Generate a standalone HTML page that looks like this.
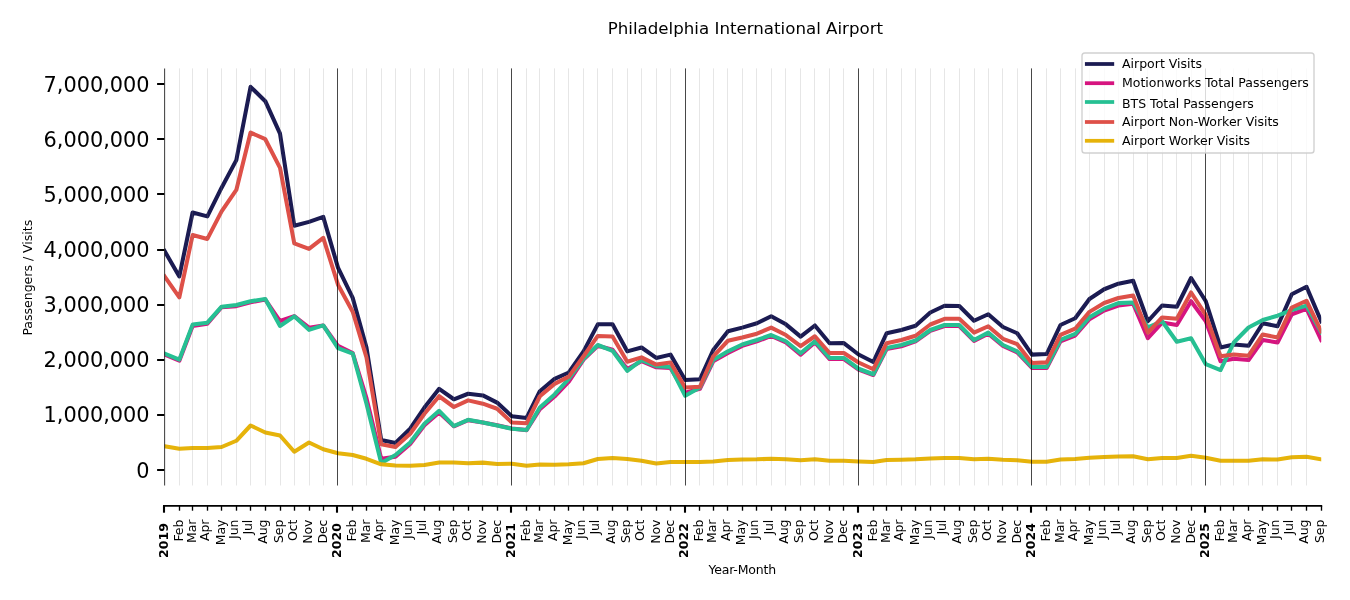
<!DOCTYPE html>
<html lang="en"><head><meta charset="utf-8"><title>Philadelphia International Airport</title>
<style>html,body{margin:0;padding:0;background:#fff}svg{display:block}</style></head>
<body>
<svg width="1350" height="600" viewBox="0 0 1350 600" font-family="'DejaVu Sans', 'Liberation Sans', sans-serif">
<rect width="1350" height="600" fill="#fff"/>
<clipPath id="c"><rect x="164.6" y="68.4" width="1156.625" height="417.1"/></clipPath>
<g clip-path="url(#c)" fill="none" stroke-linejoin="round" stroke-linecap="square">
<polyline points="164.60,251.05 179.32,276.40 192.62,212.48 207.35,216.34 221.60,187.69 236.32,160.14 250.57,86.86 265.30,101.18 280.02,133.69 294.27,225.71 309.00,221.85 323.25,216.89 337.98,267.58 352.70,297.89 366.48,347.48 381.20,440.05 395.45,443.02 410.17,428.75 424.42,407.54 439.15,388.80 453.88,399.27 468.12,393.76 482.85,395.42 497.10,402.58 511.82,416.24 526.55,418.01 539.85,391.23 554.58,378.88 568.82,372.49 583.55,351.34 597.80,324.34 612.52,324.34 627.25,351.34 641.50,347.48 656.23,357.95 670.48,354.64 685.20,379.99 699.93,379.27 713.23,350.01 727.95,331.28 742.20,327.64 756.93,323.23 771.18,316.24 785.90,324.34 800.62,336.62 814.88,325.49 829.60,343.24 843.85,343.07 858.58,354.48 873.30,362.02 886.60,333.26 901.32,330.01 915.58,325.77 930.30,312.49 944.55,305.77 959.27,305.99 974.00,320.75 988.25,314.25 1002.98,326.98 1017.23,333.26 1031.95,354.64 1046.67,354.09 1060.45,325.00 1075.17,318.27 1089.42,298.99 1104.15,289.24 1118.40,283.73 1133.12,280.75 1147.85,321.25 1162.10,305.49 1176.82,306.76 1191.08,278.00 1205.80,301.25 1220.52,347.48 1233.82,344.50 1248.55,345.77 1262.80,323.23 1277.52,326.26 1291.77,294.25 1306.50,286.76 1321.22,321.25" stroke="#1b1b52" stroke-width="4.05"/>
<polyline points="164.60,354.64 179.32,360.70 192.62,325.99 207.35,323.79 221.60,307.25 236.32,306.15 250.57,302.30 265.30,299.54 280.02,321.03 294.27,316.07 309.00,327.64 323.25,325.44 337.98,345.82 352.70,352.99 366.48,398.17 381.20,458.78 395.45,456.74 410.17,443.90 424.42,425.17 439.15,412.50 453.88,426.27 468.12,420.21 482.85,422.41 497.10,425.17 511.82,428.48 526.55,430.13 539.85,409.19 554.58,396.52 568.82,381.64 583.55,359.60 597.80,345.82 612.52,349.68 627.25,368.97 641.50,361.25 656.23,367.31 670.48,367.87 685.20,392.66 699.93,388.80 713.23,361.25 727.95,352.99 742.20,345.82 756.93,341.42 771.18,335.91 785.90,342.52 800.62,354.64 814.88,342.52 829.60,359.05 843.85,359.05 858.58,369.52 873.30,375.03 886.60,349.13 901.32,346.38 915.58,341.42 930.30,330.95 944.55,325.99 959.27,325.99 974.00,340.87 988.25,333.70 1002.98,345.82 1017.23,352.44 1031.95,367.98 1046.67,367.98 1060.45,341.25 1075.17,335.52 1089.42,319.27 1104.15,310.51 1118.40,305.60 1133.12,303.73 1147.85,338.22 1162.10,322.52 1176.82,325.00 1191.08,301.25 1205.80,321.25 1220.52,361.25 1233.82,358.77 1248.55,359.99 1262.80,339.98 1277.52,342.52 1291.77,314.25 1306.50,308.74 1321.22,339.98" stroke="#d6147f" stroke-width="4.05"/>
<polyline points="164.60,353.54 179.32,359.60 192.62,324.61 207.35,322.68 221.60,306.70 236.32,305.05 250.57,301.19 265.30,298.99 280.02,325.99 294.27,316.35 309.00,329.85 323.25,325.44 337.98,348.03 352.70,353.54 366.48,403.68 381.20,462.91 395.45,454.98 410.17,442.53 424.42,423.74 439.15,410.84 453.88,426.00 468.12,419.82 482.85,422.52 497.10,425.50 511.82,428.75 526.55,430.02 539.85,407.54 554.58,394.48 568.82,378.77 583.55,358.77 597.80,345.00 612.52,350.78 627.25,370.79 641.50,360.15 656.23,366.21 670.48,366.98 685.20,395.75 699.93,387.48 713.23,359.99 727.95,351.34 742.20,344.50 756.93,339.98 771.18,335.03 785.90,341.25 800.62,353.26 814.88,341.25 829.60,357.95 843.85,357.95 858.58,368.75 873.30,374.26 886.60,348.03 901.32,345.00 915.58,340.48 930.30,330.01 944.55,325.00 959.27,325.00 974.00,339.98 988.25,332.60 1002.98,345.00 1017.23,351.34 1031.95,366.87 1046.67,366.87 1060.45,339.98 1075.17,333.98 1089.42,317.28 1104.15,308.74 1118.40,303.12 1133.12,302.52 1147.85,327.48 1162.10,321.25 1176.82,341.75 1191.08,338.22 1205.80,364.23 1220.52,370.01 1233.82,342.52 1248.55,327.48 1262.80,319.93 1277.52,315.74 1291.77,310.01 1306.50,305.60 1321.22,332.33" stroke="#26c093" stroke-width="4.05"/>
<polyline points="164.60,276.40 179.32,297.34 192.62,235.07 207.35,238.93 221.60,211.38 236.32,189.89 250.57,132.59 265.30,139.20 280.02,167.85 294.27,243.34 309.00,248.85 323.25,237.83 337.98,284.66 352.70,311.66 366.48,357.40 381.20,444.23 395.45,446.99 410.17,433.76 424.42,413.76 439.15,396.24 453.88,406.99 468.12,400.37 482.85,403.68 497.10,408.75 511.82,422.52 526.55,423.24 539.85,396.24 554.58,383.84 568.82,376.68 583.55,356.29 597.80,335.91 612.52,336.46 627.25,361.80 641.50,357.40 656.23,364.56 670.48,362.52 685.20,387.48 699.93,386.76 713.23,356.29 727.95,340.76 742.20,337.56 756.93,333.70 771.18,327.64 785.90,335.03 800.62,346.10 814.88,336.24 829.60,352.99 843.85,352.99 858.58,362.52 873.30,369.24 886.60,343.24 901.32,339.98 915.58,335.74 930.30,324.50 944.55,318.83 959.27,318.83 974.00,332.60 988.25,326.26 1002.98,338.77 1017.23,344.23 1031.95,362.91 1046.67,362.36 1060.45,334.81 1075.17,328.74 1089.42,311.88 1104.15,303.01 1118.40,298.00 1133.12,295.52 1147.85,332.60 1162.10,317.50 1176.82,318.77 1191.08,292.49 1205.80,314.97 1220.52,356.29 1233.82,354.48 1248.55,355.74 1262.80,334.47 1277.52,337.56 1291.77,307.48 1306.50,300.75 1321.22,331.22" stroke="#de5048" stroke-width="4.05"/>
<polyline points="164.60,446.27 179.32,448.75 192.62,447.98 207.35,447.98 221.60,446.99 236.32,440.76 250.57,425.50 265.30,432.50 280.02,435.53 294.27,451.73 309.00,442.53 323.25,449.25 337.98,453.27 352.70,454.98 366.48,458.78 381.20,464.29 395.45,465.50 410.17,465.78 424.42,465.01 439.15,462.53 453.88,462.53 468.12,463.24 482.85,462.64 497.10,464.01 511.82,463.74 526.55,465.78 539.85,464.51 554.58,464.73 568.82,464.29 583.55,463.24 597.80,459.00 612.52,458.01 627.25,459.00 641.50,460.76 656.23,463.52 670.48,462.00 685.20,462.09 699.93,462.09 713.23,461.54 727.95,459.99 742.20,459.50 756.93,459.33 771.18,458.78 785.90,459.33 800.62,460.27 814.88,459.28 829.60,460.76 843.85,460.76 858.58,461.54 873.30,462.09 886.60,459.99 901.32,459.77 915.58,459.33 930.30,458.50 944.55,458.01 959.27,458.01 974.00,459.33 988.25,458.78 1002.98,459.77 1017.23,460.27 1031.95,461.65 1046.67,461.65 1060.45,459.50 1075.17,459.00 1089.42,457.73 1104.15,457.02 1118.40,456.52 1133.12,456.25 1147.85,459.33 1162.10,458.06 1176.82,458.06 1191.08,455.75 1205.80,457.79 1220.52,460.82 1233.82,460.82 1248.55,460.82 1262.80,459.33 1277.52,459.55 1291.77,457.29 1306.50,456.80 1321.22,459.33" stroke="#e6b30a" stroke-width="4.05"/>
</g>
<g stroke-width="1">
<line x1="179.5" x2="179.5" y1="68.4" y2="485.5" stroke="#808080" stroke-opacity="0.2"/>
<line x1="192.5" x2="192.5" y1="68.4" y2="485.5" stroke="#808080" stroke-opacity="0.2"/>
<line x1="207.5" x2="207.5" y1="68.4" y2="485.5" stroke="#808080" stroke-opacity="0.2"/>
<line x1="221.5" x2="221.5" y1="68.4" y2="485.5" stroke="#808080" stroke-opacity="0.2"/>
<line x1="236.5" x2="236.5" y1="68.4" y2="485.5" stroke="#808080" stroke-opacity="0.2"/>
<line x1="250.5" x2="250.5" y1="68.4" y2="485.5" stroke="#808080" stroke-opacity="0.2"/>
<line x1="265.5" x2="265.5" y1="68.4" y2="485.5" stroke="#808080" stroke-opacity="0.2"/>
<line x1="280.5" x2="280.5" y1="68.4" y2="485.5" stroke="#808080" stroke-opacity="0.2"/>
<line x1="294.5" x2="294.5" y1="68.4" y2="485.5" stroke="#808080" stroke-opacity="0.2"/>
<line x1="309.5" x2="309.5" y1="68.4" y2="485.5" stroke="#808080" stroke-opacity="0.2"/>
<line x1="323.5" x2="323.5" y1="68.4" y2="485.5" stroke="#808080" stroke-opacity="0.2"/>
<line x1="337.5" x2="337.5" y1="68.4" y2="485.5" stroke="#000" stroke-opacity="0.72"/>
<line x1="352.5" x2="352.5" y1="68.4" y2="485.5" stroke="#808080" stroke-opacity="0.2"/>
<line x1="366.5" x2="366.5" y1="68.4" y2="485.5" stroke="#808080" stroke-opacity="0.2"/>
<line x1="381.5" x2="381.5" y1="68.4" y2="485.5" stroke="#808080" stroke-opacity="0.2"/>
<line x1="395.5" x2="395.5" y1="68.4" y2="485.5" stroke="#808080" stroke-opacity="0.2"/>
<line x1="410.5" x2="410.5" y1="68.4" y2="485.5" stroke="#808080" stroke-opacity="0.2"/>
<line x1="424.5" x2="424.5" y1="68.4" y2="485.5" stroke="#808080" stroke-opacity="0.2"/>
<line x1="439.5" x2="439.5" y1="68.4" y2="485.5" stroke="#808080" stroke-opacity="0.2"/>
<line x1="453.5" x2="453.5" y1="68.4" y2="485.5" stroke="#808080" stroke-opacity="0.2"/>
<line x1="468.5" x2="468.5" y1="68.4" y2="485.5" stroke="#808080" stroke-opacity="0.2"/>
<line x1="482.5" x2="482.5" y1="68.4" y2="485.5" stroke="#808080" stroke-opacity="0.2"/>
<line x1="497.5" x2="497.5" y1="68.4" y2="485.5" stroke="#808080" stroke-opacity="0.2"/>
<line x1="511.5" x2="511.5" y1="68.4" y2="485.5" stroke="#000" stroke-opacity="0.72"/>
<line x1="526.5" x2="526.5" y1="68.4" y2="485.5" stroke="#808080" stroke-opacity="0.2"/>
<line x1="539.5" x2="539.5" y1="68.4" y2="485.5" stroke="#808080" stroke-opacity="0.2"/>
<line x1="554.5" x2="554.5" y1="68.4" y2="485.5" stroke="#808080" stroke-opacity="0.2"/>
<line x1="568.5" x2="568.5" y1="68.4" y2="485.5" stroke="#808080" stroke-opacity="0.2"/>
<line x1="583.5" x2="583.5" y1="68.4" y2="485.5" stroke="#808080" stroke-opacity="0.2"/>
<line x1="597.5" x2="597.5" y1="68.4" y2="485.5" stroke="#808080" stroke-opacity="0.2"/>
<line x1="612.5" x2="612.5" y1="68.4" y2="485.5" stroke="#808080" stroke-opacity="0.2"/>
<line x1="627.5" x2="627.5" y1="68.4" y2="485.5" stroke="#808080" stroke-opacity="0.2"/>
<line x1="641.5" x2="641.5" y1="68.4" y2="485.5" stroke="#808080" stroke-opacity="0.2"/>
<line x1="656.5" x2="656.5" y1="68.4" y2="485.5" stroke="#808080" stroke-opacity="0.2"/>
<line x1="670.5" x2="670.5" y1="68.4" y2="485.5" stroke="#808080" stroke-opacity="0.2"/>
<line x1="685.5" x2="685.5" y1="68.4" y2="485.5" stroke="#000" stroke-opacity="0.72"/>
<line x1="699.5" x2="699.5" y1="68.4" y2="485.5" stroke="#808080" stroke-opacity="0.2"/>
<line x1="713.5" x2="713.5" y1="68.4" y2="485.5" stroke="#808080" stroke-opacity="0.2"/>
<line x1="727.5" x2="727.5" y1="68.4" y2="485.5" stroke="#808080" stroke-opacity="0.2"/>
<line x1="742.5" x2="742.5" y1="68.4" y2="485.5" stroke="#808080" stroke-opacity="0.2"/>
<line x1="756.5" x2="756.5" y1="68.4" y2="485.5" stroke="#808080" stroke-opacity="0.2"/>
<line x1="771.5" x2="771.5" y1="68.4" y2="485.5" stroke="#808080" stroke-opacity="0.2"/>
<line x1="785.5" x2="785.5" y1="68.4" y2="485.5" stroke="#808080" stroke-opacity="0.2"/>
<line x1="800.5" x2="800.5" y1="68.4" y2="485.5" stroke="#808080" stroke-opacity="0.2"/>
<line x1="814.5" x2="814.5" y1="68.4" y2="485.5" stroke="#808080" stroke-opacity="0.2"/>
<line x1="829.5" x2="829.5" y1="68.4" y2="485.5" stroke="#808080" stroke-opacity="0.2"/>
<line x1="843.5" x2="843.5" y1="68.4" y2="485.5" stroke="#808080" stroke-opacity="0.2"/>
<line x1="858.5" x2="858.5" y1="68.4" y2="485.5" stroke="#000" stroke-opacity="0.72"/>
<line x1="873.5" x2="873.5" y1="68.4" y2="485.5" stroke="#808080" stroke-opacity="0.2"/>
<line x1="886.5" x2="886.5" y1="68.4" y2="485.5" stroke="#808080" stroke-opacity="0.2"/>
<line x1="901.5" x2="901.5" y1="68.4" y2="485.5" stroke="#808080" stroke-opacity="0.2"/>
<line x1="915.5" x2="915.5" y1="68.4" y2="485.5" stroke="#808080" stroke-opacity="0.2"/>
<line x1="930.5" x2="930.5" y1="68.4" y2="485.5" stroke="#808080" stroke-opacity="0.2"/>
<line x1="944.5" x2="944.5" y1="68.4" y2="485.5" stroke="#808080" stroke-opacity="0.2"/>
<line x1="959.5" x2="959.5" y1="68.4" y2="485.5" stroke="#808080" stroke-opacity="0.2"/>
<line x1="974.5" x2="974.5" y1="68.4" y2="485.5" stroke="#808080" stroke-opacity="0.2"/>
<line x1="988.5" x2="988.5" y1="68.4" y2="485.5" stroke="#808080" stroke-opacity="0.2"/>
<line x1="1002.5" x2="1002.5" y1="68.4" y2="485.5" stroke="#808080" stroke-opacity="0.2"/>
<line x1="1017.5" x2="1017.5" y1="68.4" y2="485.5" stroke="#808080" stroke-opacity="0.2"/>
<line x1="1031.5" x2="1031.5" y1="68.4" y2="485.5" stroke="#000" stroke-opacity="0.72"/>
<line x1="1046.5" x2="1046.5" y1="68.4" y2="485.5" stroke="#808080" stroke-opacity="0.2"/>
<line x1="1060.5" x2="1060.5" y1="68.4" y2="485.5" stroke="#808080" stroke-opacity="0.2"/>
<line x1="1075.5" x2="1075.5" y1="68.4" y2="485.5" stroke="#808080" stroke-opacity="0.2"/>
<line x1="1089.5" x2="1089.5" y1="68.4" y2="485.5" stroke="#808080" stroke-opacity="0.2"/>
<line x1="1104.5" x2="1104.5" y1="68.4" y2="485.5" stroke="#808080" stroke-opacity="0.2"/>
<line x1="1118.5" x2="1118.5" y1="68.4" y2="485.5" stroke="#808080" stroke-opacity="0.2"/>
<line x1="1133.5" x2="1133.5" y1="68.4" y2="485.5" stroke="#808080" stroke-opacity="0.2"/>
<line x1="1147.5" x2="1147.5" y1="68.4" y2="485.5" stroke="#808080" stroke-opacity="0.2"/>
<line x1="1162.5" x2="1162.5" y1="68.4" y2="485.5" stroke="#808080" stroke-opacity="0.2"/>
<line x1="1176.5" x2="1176.5" y1="68.4" y2="485.5" stroke="#808080" stroke-opacity="0.2"/>
<line x1="1191.5" x2="1191.5" y1="68.4" y2="485.5" stroke="#808080" stroke-opacity="0.2"/>
<line x1="1205.5" x2="1205.5" y1="68.4" y2="485.5" stroke="#000" stroke-opacity="0.72"/>
<line x1="1220.5" x2="1220.5" y1="68.4" y2="485.5" stroke="#808080" stroke-opacity="0.2"/>
<line x1="1233.5" x2="1233.5" y1="68.4" y2="485.5" stroke="#808080" stroke-opacity="0.2"/>
<line x1="1248.5" x2="1248.5" y1="68.4" y2="485.5" stroke="#808080" stroke-opacity="0.2"/>
<line x1="1262.5" x2="1262.5" y1="68.4" y2="485.5" stroke="#808080" stroke-opacity="0.2"/>
<line x1="1277.5" x2="1277.5" y1="68.4" y2="485.5" stroke="#808080" stroke-opacity="0.2"/>
<line x1="1291.5" x2="1291.5" y1="68.4" y2="485.5" stroke="#808080" stroke-opacity="0.2"/>
<line x1="1306.5" x2="1306.5" y1="68.4" y2="485.5" stroke="#808080" stroke-opacity="0.2"/>
</g>
<line x1="164.6" x2="164.6" y1="68.4" y2="485.5" stroke="#000" stroke-opacity="0.75" stroke-width="1.05"/>
<line x1="157.1" x2="164.3" y1="470" y2="470" stroke="#000" stroke-width="2"/>
<text x="149.6" y="477.60" font-size="20.83" text-anchor="end" fill="#000">0</text>
<line x1="157.1" x2="164.3" y1="415" y2="415" stroke="#000" stroke-width="2"/>
<text x="149.6" y="422.46" font-size="20.83" text-anchor="end" fill="#000">1,000,000</text>
<line x1="157.1" x2="164.3" y1="360" y2="360" stroke="#000" stroke-width="2"/>
<text x="149.6" y="367.32" font-size="20.83" text-anchor="end" fill="#000">2,000,000</text>
<line x1="157.1" x2="164.3" y1="305" y2="305" stroke="#000" stroke-width="2"/>
<text x="149.6" y="312.18" font-size="20.83" text-anchor="end" fill="#000">3,000,000</text>
<line x1="157.1" x2="164.3" y1="250" y2="250" stroke="#000" stroke-width="2"/>
<text x="149.6" y="257.04" font-size="20.83" text-anchor="end" fill="#000">4,000,000</text>
<line x1="157.1" x2="164.3" y1="194" y2="194" stroke="#000" stroke-width="2"/>
<text x="149.6" y="201.90" font-size="20.83" text-anchor="end" fill="#000">5,000,000</text>
<line x1="157.1" x2="164.3" y1="139" y2="139" stroke="#000" stroke-width="2"/>
<text x="149.6" y="146.76" font-size="20.83" text-anchor="end" fill="#000">6,000,000</text>
<line x1="157.1" x2="164.3" y1="84" y2="84" stroke="#000" stroke-width="2"/>
<text x="149.6" y="91.62" font-size="20.83" text-anchor="end" fill="#000">7,000,000</text>
<line x1="163" x2="1322.2" y1="505.85" y2="505.85" stroke="#000" stroke-width="1.7"/>
<line x1="164" x2="164" y1="505.85" y2="512.7" stroke="#000" stroke-width="2.1"/>
<text transform="translate(168,523.1) rotate(-90)" font-size="12.5" font-weight="bold" text-anchor="end" fill="#000">2019</text>
<line x1="179.5" x2="179.5" y1="505.85" y2="510.7" stroke="#000" stroke-width="1.35"/>
<text transform="translate(183,519.8) rotate(-90)" font-size="12.5" letter-spacing="-0.15" text-anchor="end" fill="#000">Feb</text>
<line x1="192.5" x2="192.5" y1="505.85" y2="510.7" stroke="#000" stroke-width="1.35"/>
<text transform="translate(196,519.8) rotate(-90)" font-size="12.5" letter-spacing="-0.15" text-anchor="end" fill="#000">Mar</text>
<line x1="207.5" x2="207.5" y1="505.85" y2="510.7" stroke="#000" stroke-width="1.35"/>
<text transform="translate(209,519.8) rotate(-90)" font-size="12.5" letter-spacing="-0.15" text-anchor="end" fill="#000">Apr</text>
<line x1="221.5" x2="221.5" y1="505.85" y2="510.7" stroke="#000" stroke-width="1.35"/>
<text transform="translate(225,519.8) rotate(-90)" font-size="12.5" letter-spacing="-0.15" text-anchor="end" fill="#000">May</text>
<line x1="236.5" x2="236.5" y1="505.85" y2="510.7" stroke="#000" stroke-width="1.35"/>
<text transform="translate(238,519.8) rotate(-90)" font-size="12.5" letter-spacing="-0.15" text-anchor="end" fill="#000">Jun</text>
<line x1="250.5" x2="250.5" y1="505.85" y2="510.7" stroke="#000" stroke-width="1.35"/>
<text transform="translate(252,519.8) rotate(-90)" font-size="12.5" letter-spacing="-0.15" text-anchor="end" fill="#000">Jul</text>
<line x1="265.5" x2="265.5" y1="505.85" y2="510.7" stroke="#000" stroke-width="1.35"/>
<text transform="translate(267,519.8) rotate(-90)" font-size="12.5" letter-spacing="-0.15" text-anchor="end" fill="#000">Aug</text>
<line x1="280.5" x2="280.5" y1="505.85" y2="510.7" stroke="#000" stroke-width="1.35"/>
<text transform="translate(283,519.8) rotate(-90)" font-size="12.5" letter-spacing="-0.15" text-anchor="end" fill="#000">Sep</text>
<line x1="294.5" x2="294.5" y1="505.85" y2="510.7" stroke="#000" stroke-width="1.35"/>
<text transform="translate(297,519.8) rotate(-90)" font-size="12.5" letter-spacing="-0.15" text-anchor="end" fill="#000">Oct</text>
<line x1="309.5" x2="309.5" y1="505.85" y2="510.7" stroke="#000" stroke-width="1.35"/>
<text transform="translate(312,519.8) rotate(-90)" font-size="12.5" letter-spacing="-0.15" text-anchor="end" fill="#000">Nov</text>
<line x1="323.5" x2="323.5" y1="505.85" y2="510.7" stroke="#000" stroke-width="1.35"/>
<text transform="translate(327,519.8) rotate(-90)" font-size="12.5" letter-spacing="-0.15" text-anchor="end" fill="#000">Dec</text>
<line x1="337" x2="337" y1="505.85" y2="512.7" stroke="#000" stroke-width="2.1"/>
<text transform="translate(341,523.1) rotate(-90)" font-size="12.5" font-weight="bold" text-anchor="end" fill="#000">2020</text>
<line x1="352.5" x2="352.5" y1="505.85" y2="510.7" stroke="#000" stroke-width="1.35"/>
<text transform="translate(356,519.8) rotate(-90)" font-size="12.5" letter-spacing="-0.15" text-anchor="end" fill="#000">Feb</text>
<line x1="366.5" x2="366.5" y1="505.85" y2="510.7" stroke="#000" stroke-width="1.35"/>
<text transform="translate(370,519.8) rotate(-90)" font-size="12.5" letter-spacing="-0.15" text-anchor="end" fill="#000">Mar</text>
<line x1="381.5" x2="381.5" y1="505.85" y2="510.7" stroke="#000" stroke-width="1.35"/>
<text transform="translate(383,519.8) rotate(-90)" font-size="12.5" letter-spacing="-0.15" text-anchor="end" fill="#000">Apr</text>
<line x1="395.5" x2="395.5" y1="505.85" y2="510.7" stroke="#000" stroke-width="1.35"/>
<text transform="translate(399,519.8) rotate(-90)" font-size="12.5" letter-spacing="-0.15" text-anchor="end" fill="#000">May</text>
<line x1="410.5" x2="410.5" y1="505.85" y2="510.7" stroke="#000" stroke-width="1.35"/>
<text transform="translate(412,519.8) rotate(-90)" font-size="12.5" letter-spacing="-0.15" text-anchor="end" fill="#000">Jun</text>
<line x1="424.5" x2="424.5" y1="505.85" y2="510.7" stroke="#000" stroke-width="1.35"/>
<text transform="translate(426,519.8) rotate(-90)" font-size="12.5" letter-spacing="-0.15" text-anchor="end" fill="#000">Jul</text>
<line x1="439.5" x2="439.5" y1="505.85" y2="510.7" stroke="#000" stroke-width="1.35"/>
<text transform="translate(441,519.8) rotate(-90)" font-size="12.5" letter-spacing="-0.15" text-anchor="end" fill="#000">Aug</text>
<line x1="453.5" x2="453.5" y1="505.85" y2="510.7" stroke="#000" stroke-width="1.35"/>
<text transform="translate(457,519.8) rotate(-90)" font-size="12.5" letter-spacing="-0.15" text-anchor="end" fill="#000">Sep</text>
<line x1="468.5" x2="468.5" y1="505.85" y2="510.7" stroke="#000" stroke-width="1.35"/>
<text transform="translate(471,519.8) rotate(-90)" font-size="12.5" letter-spacing="-0.15" text-anchor="end" fill="#000">Oct</text>
<line x1="482.5" x2="482.5" y1="505.85" y2="510.7" stroke="#000" stroke-width="1.35"/>
<text transform="translate(486,519.8) rotate(-90)" font-size="12.5" letter-spacing="-0.15" text-anchor="end" fill="#000">Nov</text>
<line x1="497.5" x2="497.5" y1="505.85" y2="510.7" stroke="#000" stroke-width="1.35"/>
<text transform="translate(501,519.8) rotate(-90)" font-size="12.5" letter-spacing="-0.15" text-anchor="end" fill="#000">Dec</text>
<line x1="511" x2="511" y1="505.85" y2="512.7" stroke="#000" stroke-width="2.1"/>
<text transform="translate(515,523.1) rotate(-90)" font-size="12.5" font-weight="bold" text-anchor="end" fill="#000">2021</text>
<line x1="526.5" x2="526.5" y1="505.85" y2="510.7" stroke="#000" stroke-width="1.35"/>
<text transform="translate(530,519.8) rotate(-90)" font-size="12.5" letter-spacing="-0.15" text-anchor="end" fill="#000">Feb</text>
<line x1="539.5" x2="539.5" y1="505.85" y2="510.7" stroke="#000" stroke-width="1.35"/>
<text transform="translate(543,519.8) rotate(-90)" font-size="12.5" letter-spacing="-0.15" text-anchor="end" fill="#000">Mar</text>
<line x1="554.5" x2="554.5" y1="505.85" y2="510.7" stroke="#000" stroke-width="1.35"/>
<text transform="translate(557,519.8) rotate(-90)" font-size="12.5" letter-spacing="-0.15" text-anchor="end" fill="#000">Apr</text>
<line x1="568.5" x2="568.5" y1="505.85" y2="510.7" stroke="#000" stroke-width="1.35"/>
<text transform="translate(572,519.8) rotate(-90)" font-size="12.5" letter-spacing="-0.15" text-anchor="end" fill="#000">May</text>
<line x1="583.5" x2="583.5" y1="505.85" y2="510.7" stroke="#000" stroke-width="1.35"/>
<text transform="translate(585,519.8) rotate(-90)" font-size="12.5" letter-spacing="-0.15" text-anchor="end" fill="#000">Jun</text>
<line x1="597.5" x2="597.5" y1="505.85" y2="510.7" stroke="#000" stroke-width="1.35"/>
<text transform="translate(599,519.8) rotate(-90)" font-size="12.5" letter-spacing="-0.15" text-anchor="end" fill="#000">Jul</text>
<line x1="612.5" x2="612.5" y1="505.85" y2="510.7" stroke="#000" stroke-width="1.35"/>
<text transform="translate(615,519.8) rotate(-90)" font-size="12.5" letter-spacing="-0.15" text-anchor="end" fill="#000">Aug</text>
<line x1="627.5" x2="627.5" y1="505.85" y2="510.7" stroke="#000" stroke-width="1.35"/>
<text transform="translate(630,519.8) rotate(-90)" font-size="12.5" letter-spacing="-0.15" text-anchor="end" fill="#000">Sep</text>
<line x1="641.5" x2="641.5" y1="505.85" y2="510.7" stroke="#000" stroke-width="1.35"/>
<text transform="translate(644,519.8) rotate(-90)" font-size="12.5" letter-spacing="-0.15" text-anchor="end" fill="#000">Oct</text>
<line x1="656.5" x2="656.5" y1="505.85" y2="510.7" stroke="#000" stroke-width="1.35"/>
<text transform="translate(660,519.8) rotate(-90)" font-size="12.5" letter-spacing="-0.15" text-anchor="end" fill="#000">Nov</text>
<line x1="670.5" x2="670.5" y1="505.85" y2="510.7" stroke="#000" stroke-width="1.35"/>
<text transform="translate(674,519.8) rotate(-90)" font-size="12.5" letter-spacing="-0.15" text-anchor="end" fill="#000">Dec</text>
<line x1="685" x2="685" y1="505.85" y2="512.7" stroke="#000" stroke-width="2.1"/>
<text transform="translate(688,523.1) rotate(-90)" font-size="12.5" font-weight="bold" text-anchor="end" fill="#000">2022</text>
<line x1="699.5" x2="699.5" y1="505.85" y2="510.7" stroke="#000" stroke-width="1.35"/>
<text transform="translate(703,519.8) rotate(-90)" font-size="12.5" letter-spacing="-0.15" text-anchor="end" fill="#000">Feb</text>
<line x1="713.5" x2="713.5" y1="505.85" y2="510.7" stroke="#000" stroke-width="1.35"/>
<text transform="translate(716,519.8) rotate(-90)" font-size="12.5" letter-spacing="-0.15" text-anchor="end" fill="#000">Mar</text>
<line x1="727.5" x2="727.5" y1="505.85" y2="510.7" stroke="#000" stroke-width="1.35"/>
<text transform="translate(730,519.8) rotate(-90)" font-size="12.5" letter-spacing="-0.15" text-anchor="end" fill="#000">Apr</text>
<line x1="742.5" x2="742.5" y1="505.85" y2="510.7" stroke="#000" stroke-width="1.35"/>
<text transform="translate(745,519.8) rotate(-90)" font-size="12.5" letter-spacing="-0.15" text-anchor="end" fill="#000">May</text>
<line x1="756.5" x2="756.5" y1="505.85" y2="510.7" stroke="#000" stroke-width="1.35"/>
<text transform="translate(758,519.8) rotate(-90)" font-size="12.5" letter-spacing="-0.15" text-anchor="end" fill="#000">Jun</text>
<line x1="771.5" x2="771.5" y1="505.85" y2="510.7" stroke="#000" stroke-width="1.35"/>
<text transform="translate(773,519.8) rotate(-90)" font-size="12.5" letter-spacing="-0.15" text-anchor="end" fill="#000">Jul</text>
<line x1="785.5" x2="785.5" y1="505.85" y2="510.7" stroke="#000" stroke-width="1.35"/>
<text transform="translate(788,519.8) rotate(-90)" font-size="12.5" letter-spacing="-0.15" text-anchor="end" fill="#000">Aug</text>
<line x1="800.5" x2="800.5" y1="505.85" y2="510.7" stroke="#000" stroke-width="1.35"/>
<text transform="translate(803,519.8) rotate(-90)" font-size="12.5" letter-spacing="-0.15" text-anchor="end" fill="#000">Sep</text>
<line x1="814.5" x2="814.5" y1="505.85" y2="510.7" stroke="#000" stroke-width="1.35"/>
<text transform="translate(818,519.8) rotate(-90)" font-size="12.5" letter-spacing="-0.15" text-anchor="end" fill="#000">Oct</text>
<line x1="829.5" x2="829.5" y1="505.85" y2="510.7" stroke="#000" stroke-width="1.35"/>
<text transform="translate(833,519.8) rotate(-90)" font-size="12.5" letter-spacing="-0.15" text-anchor="end" fill="#000">Nov</text>
<line x1="843.5" x2="843.5" y1="505.85" y2="510.7" stroke="#000" stroke-width="1.35"/>
<text transform="translate(847,519.8) rotate(-90)" font-size="12.5" letter-spacing="-0.15" text-anchor="end" fill="#000">Dec</text>
<line x1="858" x2="858" y1="505.85" y2="512.7" stroke="#000" stroke-width="2.1"/>
<text transform="translate(862,523.1) rotate(-90)" font-size="12.5" font-weight="bold" text-anchor="end" fill="#000">2023</text>
<line x1="873.5" x2="873.5" y1="505.85" y2="510.7" stroke="#000" stroke-width="1.35"/>
<text transform="translate(877,519.8) rotate(-90)" font-size="12.5" letter-spacing="-0.15" text-anchor="end" fill="#000">Feb</text>
<line x1="886.5" x2="886.5" y1="505.85" y2="510.7" stroke="#000" stroke-width="1.35"/>
<text transform="translate(890,519.8) rotate(-90)" font-size="12.5" letter-spacing="-0.15" text-anchor="end" fill="#000">Mar</text>
<line x1="901.5" x2="901.5" y1="505.85" y2="510.7" stroke="#000" stroke-width="1.35"/>
<text transform="translate(903,519.8) rotate(-90)" font-size="12.5" letter-spacing="-0.15" text-anchor="end" fill="#000">Apr</text>
<line x1="915.5" x2="915.5" y1="505.85" y2="510.7" stroke="#000" stroke-width="1.35"/>
<text transform="translate(919,519.8) rotate(-90)" font-size="12.5" letter-spacing="-0.15" text-anchor="end" fill="#000">May</text>
<line x1="930.5" x2="930.5" y1="505.85" y2="510.7" stroke="#000" stroke-width="1.35"/>
<text transform="translate(932,519.8) rotate(-90)" font-size="12.5" letter-spacing="-0.15" text-anchor="end" fill="#000">Jun</text>
<line x1="944.5" x2="944.5" y1="505.85" y2="510.7" stroke="#000" stroke-width="1.35"/>
<text transform="translate(946,519.8) rotate(-90)" font-size="12.5" letter-spacing="-0.15" text-anchor="end" fill="#000">Jul</text>
<line x1="959.5" x2="959.5" y1="505.85" y2="510.7" stroke="#000" stroke-width="1.35"/>
<text transform="translate(961,519.8) rotate(-90)" font-size="12.5" letter-spacing="-0.15" text-anchor="end" fill="#000">Aug</text>
<line x1="974.5" x2="974.5" y1="505.85" y2="510.7" stroke="#000" stroke-width="1.35"/>
<text transform="translate(977,519.8) rotate(-90)" font-size="12.5" letter-spacing="-0.15" text-anchor="end" fill="#000">Sep</text>
<line x1="988.5" x2="988.5" y1="505.85" y2="510.7" stroke="#000" stroke-width="1.35"/>
<text transform="translate(991,519.8) rotate(-90)" font-size="12.5" letter-spacing="-0.15" text-anchor="end" fill="#000">Oct</text>
<line x1="1002.5" x2="1002.5" y1="505.85" y2="510.7" stroke="#000" stroke-width="1.35"/>
<text transform="translate(1006,519.8) rotate(-90)" font-size="12.5" letter-spacing="-0.15" text-anchor="end" fill="#000">Nov</text>
<line x1="1017.5" x2="1017.5" y1="505.85" y2="510.7" stroke="#000" stroke-width="1.35"/>
<text transform="translate(1021,519.8) rotate(-90)" font-size="12.5" letter-spacing="-0.15" text-anchor="end" fill="#000">Dec</text>
<line x1="1031" x2="1031" y1="505.85" y2="512.7" stroke="#000" stroke-width="2.1"/>
<text transform="translate(1035,523.1) rotate(-90)" font-size="12.5" font-weight="bold" text-anchor="end" fill="#000">2024</text>
<line x1="1046.5" x2="1046.5" y1="505.85" y2="510.7" stroke="#000" stroke-width="1.35"/>
<text transform="translate(1050,519.8) rotate(-90)" font-size="12.5" letter-spacing="-0.15" text-anchor="end" fill="#000">Feb</text>
<line x1="1060.5" x2="1060.5" y1="505.85" y2="510.7" stroke="#000" stroke-width="1.35"/>
<text transform="translate(1064,519.8) rotate(-90)" font-size="12.5" letter-spacing="-0.15" text-anchor="end" fill="#000">Mar</text>
<line x1="1075.5" x2="1075.5" y1="505.85" y2="510.7" stroke="#000" stroke-width="1.35"/>
<text transform="translate(1077,519.8) rotate(-90)" font-size="12.5" letter-spacing="-0.15" text-anchor="end" fill="#000">Apr</text>
<line x1="1089.5" x2="1089.5" y1="505.85" y2="510.7" stroke="#000" stroke-width="1.35"/>
<text transform="translate(1093,519.8) rotate(-90)" font-size="12.5" letter-spacing="-0.15" text-anchor="end" fill="#000">May</text>
<line x1="1104.5" x2="1104.5" y1="505.85" y2="510.7" stroke="#000" stroke-width="1.35"/>
<text transform="translate(1106,519.8) rotate(-90)" font-size="12.5" letter-spacing="-0.15" text-anchor="end" fill="#000">Jun</text>
<line x1="1118.5" x2="1118.5" y1="505.85" y2="510.7" stroke="#000" stroke-width="1.35"/>
<text transform="translate(1120,519.8) rotate(-90)" font-size="12.5" letter-spacing="-0.15" text-anchor="end" fill="#000">Jul</text>
<line x1="1133.5" x2="1133.5" y1="505.85" y2="510.7" stroke="#000" stroke-width="1.35"/>
<text transform="translate(1135,519.8) rotate(-90)" font-size="12.5" letter-spacing="-0.15" text-anchor="end" fill="#000">Aug</text>
<line x1="1147.5" x2="1147.5" y1="505.85" y2="510.7" stroke="#000" stroke-width="1.35"/>
<text transform="translate(1151,519.8) rotate(-90)" font-size="12.5" letter-spacing="-0.15" text-anchor="end" fill="#000">Sep</text>
<line x1="1162.5" x2="1162.5" y1="505.85" y2="510.7" stroke="#000" stroke-width="1.35"/>
<text transform="translate(1165,519.8) rotate(-90)" font-size="12.5" letter-spacing="-0.15" text-anchor="end" fill="#000">Oct</text>
<line x1="1176.5" x2="1176.5" y1="505.85" y2="510.7" stroke="#000" stroke-width="1.35"/>
<text transform="translate(1180,519.8) rotate(-90)" font-size="12.5" letter-spacing="-0.15" text-anchor="end" fill="#000">Nov</text>
<line x1="1191.5" x2="1191.5" y1="505.85" y2="510.7" stroke="#000" stroke-width="1.35"/>
<text transform="translate(1195,519.8) rotate(-90)" font-size="12.5" letter-spacing="-0.15" text-anchor="end" fill="#000">Dec</text>
<line x1="1205" x2="1205" y1="505.85" y2="512.7" stroke="#000" stroke-width="2.1"/>
<text transform="translate(1209,523.1) rotate(-90)" font-size="12.5" font-weight="bold" text-anchor="end" fill="#000">2025</text>
<line x1="1220.5" x2="1220.5" y1="505.85" y2="510.7" stroke="#000" stroke-width="1.35"/>
<text transform="translate(1224,519.8) rotate(-90)" font-size="12.5" letter-spacing="-0.15" text-anchor="end" fill="#000">Feb</text>
<line x1="1233.5" x2="1233.5" y1="505.85" y2="510.7" stroke="#000" stroke-width="1.35"/>
<text transform="translate(1237,519.8) rotate(-90)" font-size="12.5" letter-spacing="-0.15" text-anchor="end" fill="#000">Mar</text>
<line x1="1248.5" x2="1248.5" y1="505.85" y2="510.7" stroke="#000" stroke-width="1.35"/>
<text transform="translate(1251,519.8) rotate(-90)" font-size="12.5" letter-spacing="-0.15" text-anchor="end" fill="#000">Apr</text>
<line x1="1262.5" x2="1262.5" y1="505.85" y2="510.7" stroke="#000" stroke-width="1.35"/>
<text transform="translate(1266,519.8) rotate(-90)" font-size="12.5" letter-spacing="-0.15" text-anchor="end" fill="#000">May</text>
<line x1="1277.5" x2="1277.5" y1="505.85" y2="510.7" stroke="#000" stroke-width="1.35"/>
<text transform="translate(1279,519.8) rotate(-90)" font-size="12.5" letter-spacing="-0.15" text-anchor="end" fill="#000">Jun</text>
<line x1="1291.5" x2="1291.5" y1="505.85" y2="510.7" stroke="#000" stroke-width="1.35"/>
<text transform="translate(1293,519.8) rotate(-90)" font-size="12.5" letter-spacing="-0.15" text-anchor="end" fill="#000">Jul</text>
<line x1="1306.5" x2="1306.5" y1="505.85" y2="510.7" stroke="#000" stroke-width="1.35"/>
<text transform="translate(1308,519.8) rotate(-90)" font-size="12.5" letter-spacing="-0.15" text-anchor="end" fill="#000">Aug</text>
<line x1="1321.5" x2="1321.5" y1="505.85" y2="510.7" stroke="#000" stroke-width="1.35"/>
<text transform="translate(1324,519.8) rotate(-90)" font-size="12.5" letter-spacing="-0.15" text-anchor="end" fill="#000">Sep</text>
<text x="742.2" y="573.5" font-size="12.5" letter-spacing="-0.18" text-anchor="middle" fill="#000">Year-Month</text>
<text transform="translate(31.5,277.7) rotate(-90)" font-size="12.5" text-anchor="middle" fill="#000">Passengers / Visits</text>
<text x="745.4" y="33.7" font-size="16.67" text-anchor="middle" fill="#000">Philadelphia International Airport</text>
<rect x="1082" y="53" width="232" height="100" rx="2.8" ry="2.8" fill="#fff" fill-opacity="0.8" stroke="#ccc" stroke-opacity="0.9" stroke-width="1.4"/>
<line x1="1086.8" x2="1112.3" y1="64.0" y2="64.0" stroke="#1b1b52" stroke-width="3.75" stroke-linecap="square"/>
<text x="1122" y="68.4" font-size="12.5" fill="#000">Airport Visits</text>
<line x1="1086.8" x2="1112.3" y1="83.2" y2="83.2" stroke="#d6147f" stroke-width="3.75" stroke-linecap="square"/>
<text x="1122" y="86.6" font-size="12.5" fill="#000">Motionworks Total Passengers</text>
<line x1="1086.8" x2="1112.3" y1="102.0" y2="102.0" stroke="#26c093" stroke-width="3.75" stroke-linecap="square"/>
<text x="1122" y="107.5" font-size="12.5" fill="#000">BTS Total Passengers</text>
<line x1="1086.8" x2="1112.3" y1="122.0" y2="122.0" stroke="#de5048" stroke-width="3.75" stroke-linecap="square"/>
<text x="1122" y="126.4" font-size="12.5" fill="#000">Airport Non-Worker Visits</text>
<line x1="1086.8" x2="1112.3" y1="140.8" y2="140.8" stroke="#e6b30a" stroke-width="3.75" stroke-linecap="square"/>
<text x="1122" y="145.2" font-size="12.5" fill="#000">Airport Worker Visits</text>
</svg>
</body></html>
